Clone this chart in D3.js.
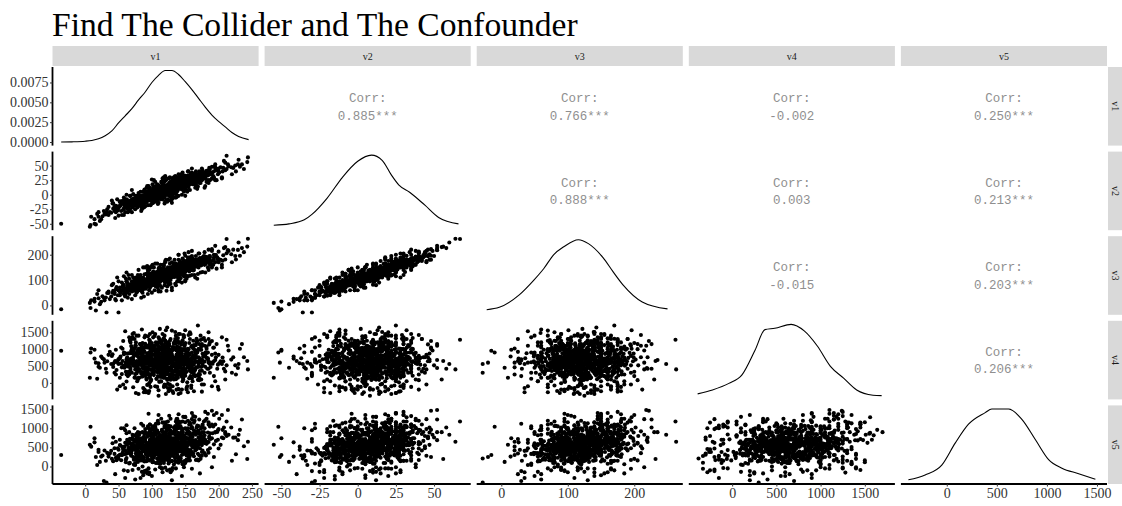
<!DOCTYPE html>
<html>
<head>
<meta charset="utf-8">
<script src="https://cdn.jsdelivr.net/npm/d3@7"></script>
<style>
  body { margin: 0; background: #ffffff; }
  svg { display: block; }
</style>
</head>
<body>
<svg id="chart" width="1122" height="506"></svg>
<script>
// ---- data -------------------------------------------------------------
const chartTitle = "Find The Collider and The Confounder";
const varNames = ["v1", "v2", "v3", "v4", "v5"];

// correlation labels, upper triangle read row by row (v1-v2, v1-v3, ...)
const corrText = ["0.885***", "0.766***", "-0.002", "0.250***",
                  "0.888***", "0.003", "0.213***",
                  "-0.015", "0.203***",
                  "0.206***"];

// axis limits of each variable
const axisLimits = [[-49, 260], [-61, 74], [-37, 273], [-490, 1840], [-458, 1600]];

// tick values
const densityTicks = [0, 0.0025, 0.005, 0.0075];
const varTicks = [
  [0, 50, 100, 150, 200, 250],
  [-50, -25, 0, 25, 50],
  [0, 100, 200],
  [0, 500, 1000, 1500],
  [0, 500, 1000, 1500]
];

// kernel density estimates of each variable: [value, density]
const densV1 = [[-36,0.0000],[-20,0.00002],[0,0.0001],[10,0.0002],[20,0.0004],[30,0.0008],[40,0.0014],[50,0.0024],[60,0.0033],[70,0.0042],[80,0.0053],[90,0.0063],[100,0.0075],[110,0.0084],[120,0.0090],[130,0.0090],[140,0.0085],[150,0.0076],[160,0.0066],[170,0.0055],[180,0.0044],[190,0.0034],[200,0.0026],[210,0.0019],[220,0.0012],[230,0.0007],[245,0.0003]];
const densV2 = [[-55,0.0004],[-45,0.0008],[-35,0.0020],[-30,0.0036],[-20,0.0084],[-10,0.0145],[0,0.0192],[9,0.0210],[16,0.0195],[22,0.0152],[27,0.0122],[34,0.0101],[44,0.0063],[53,0.0027],[66,0.0008]];
const densV3 = [[-22,0.0002],[-3,0.0005],[27,0.0021],[49,0.0040],[64,0.0055],[79,0.0073],[94,0.0083],[116,0.0092],[131,0.0087],[153,0.0069],[168,0.0051],[183,0.0034],[212,0.0012],[250,0.0003]];
const densV4 = [[-390,0.00003],[-222,0.00009],[-37,0.00019],[111,0.00032],[260,0.00070],[371,0.00101],[482,0.00103],[667,0.00109],[815,0.00099],[963,0.00076],[1111,0.00045],[1260,0.00027],[1408,0.00009],[1593,0.00001],[1690,0.000003]];
const densV5 = [[-383,0.00001],[-216,0.00009],[-50,0.00025],[84,0.00061],[217,0.00092],[384,0.00111],[450,0.00117],[617,0.00117],[750,0.00100],[884,0.00067],[1017,0.00034],[1150,0.00020],[1317,0.00011],[1484,0.00002]];
const densities = [densV1, densV2, densV3, densV4, densV5];

// observations: [v1, v2, v3, v4, v5]
const observations = [
[120,11,112,640,388],[85,-12,91,320,591],[150,25,132,980,540],[102,13,134,410,780],[171,24,173,150,292],
[63,-13,62,760,569],[134,4,138,1220,709],[111,11,94,560,76],[195,47,199,870,889],[47,-24,72,380,165],
[128,9,122,95,663],[92,-2,76,1050,510],[160,38,186,700,1012],[118,-4,127,-120,172],[76,-2,93,610,513],
[143,11,107,450,221],[212,44,206,520,800],[104,5,122,1390,689],[35,-21,49,830,323],[137,19,116,240,979],
[115,-2,108,680,547],[89,9,123,290,132],[166,17,164,1120,867],[124,16,118,-30,711],[58,-24,70,510,320],
[181,35,164,905,291],[99,-4,118,720,696],[141,25,158,350,598],[73,-13,59,1480,691],[131,-1,112,620,384],
[108,4,83,450,478],[153,27,174,15,382],[20,-38,28,580,436],[127,21,134,800,933],[82,-16,78,930,298],
[176,31,132,560,683],[113,10,160,180,73],[146,15,130,1260,889],[67,-2,78,690,723],[122,5,117,430,450],
[95,-3,124,760,367],[158,31,150,540,796],[131,14,150,-250,450],[56,-14,75,1010,507],[203,47,180,640,567],
[117,22,138,340,613],[88,-17,75,220,156],[139,11,139,880,1010],[105,2,96,600,413],[186,46,194,1140,787],
[79,-2,120,470,780],[126,3,93,700,221],[148,22,177,380,506],[41,-15,50,850,608],[112,2,122,1600,816],
[169,14,124,90,336],[97,3,76,560,911],[133,30,166,730,319],[70,-14,84,300,410],[121,14,109,-330,276],
[155,13,141,650,713],[86,-4,87,1180,465],[109,-6,91,470,724],[222,46,220,760,756],[61,-15,106,590,112],
[144,24,122,240,801],[119,7,114,920,572],[93,5,121,-60,199],[178,36,164,1330,900],[130,7,138,510,150],
[74,-15,60,820,641],[161,26,161,400,504],[103,10,104,1050,829],[136,2,135,690,377],[52,-12,70,150,308],
[191,28,176,570,872],[116,9,109,260,515],[84,-21,73,710,217],[147,29,155,1420,683],[125,10,82,820,1063],
[65,-22,84,480,487],[140,20,142,-190,168],[106,0,120,660,837],[172,36,187,980,480],[90,1,81,380,442],
[132,26,142,550,442],[14,-42,26,720,633],[157,21,117,830,333],[100,-7,112,1100,724],[123,10,131,300,655],
[77,-6,93,640,281],[163,36,154,210,949],[110,0,98,500,482],[145,9,138,1210,587],[54,-16,56,570,165],
[198,43,190,420,904],[118,16,146,780,342],[96,-3,84,-240,379],[138,21,159,600,1132],[72,1,110,930,460],
[129,18,132,450,666],[81,-9,95,1020,540],[152,20,148,330,290],[107,6,100,790,620],[44,-28,45,610,330],
[167,29,170,1310,1020],[114,3,120,40,260],[135,17,126,560,700],[60,-20,38,880,420],[184,33,178,690,430],
[98,1,117,250,540],[121,13,101,1560,880],[149,28,168,730,140],[87,-10,64,500,660],[174,26,158,470,760],
[69,-16,81,1090,350],[127,7,128,180,390],[101,-1,99,640,980],[142,20,117,860,420],[31,-34,31,420,150],
[116,19,145,920,690],[159,24,140,-80,310],[91,-6,99,560,420],[206,40,176,750,960],[78,-9,62,330,180],
[133,9,127,1180,740],[112,10,133,620,520],[50,-23,59,700,280],[170,27,150,260,590],[119,4,96,480,610],
[94,3,130,1380,830],[150,17,119,620,90],[62,-8,95,40,220],[180,38,193,890,1210],[125,12,104,360,380],
[83,-17,85,730,560],[137,30,152,510,630],[109,2,84,960,720],[229,52,219,440,690],[120,0,105,1250,600],
[75,-11,78,150,90],[162,32,172,600,870],[105,9,116,480,300],[140,11,140,1450,720],[39,-31,35,560,410],
[127,13,124,-150,260],[190,37,162,830,740],[88,-5,97,650,780],[116,6,127,340,510],[154,28,189,1010,450],
[66,-18,61,880,640],[131,16,141,270,350],[100,-4,104,720,190],[176,35,186,510,1100],[119,11,119,570,470],
[57,-15,82,1240,470],[144,14,124,780,810],[93,-8,80,430,570],[210,42,181,340,850],[122,8,130,920,360],
[80,-14,70,560,250],[135,22,150,1160,940],[112,-2,98,190,350],[164,21,158,700,520],[26,-37,36,730,290],
[139,20,117,450,810],[103,3,120,610,690],[71,-9,88,1350,510],[183,40,176,420,640],[128,5,111,850,880],
[96,4,90,-10,160],[151,29,157,590,600],[117,12,142,690,250],[59,-21,50,450,520],[146,18,151,300,980],
[108,7,97,980,440],[196,43,199,760,670],[85,-4,102,520,390],[124,15,138,1080,780],[33,-25,49,640,360],
[156,19,134,140,330],[113,0,115,560,780],[78,-13,71,810,600],[141,24,161,670,460],[168,31,166,950,1070],
[99,-9,86,380,610],[130,14,121,220,520],[46,-19,64,980,230],[185,39,170,600,360],[121,2,108,760,610],
[90,-11,92,1160,650],[134,23,147,480,700],[107,8,132,850,440],[215,49,215,960,830],[68,-12,69,380,420],
[147,16,146,640,380],[111,5,96,30,300],[158,33,179,540,760],[82,-7,95,690,300],[125,18,134,570,1000],
[102,-3,107,560,460],[173,30,175,1270,720],[63,-24,52,510,350],[138,13,136,820,300],[118,14,128,400,620],
[24,-42,14,780,260],[153,22,139,450,890],[95,0,112,1040,500],[129,6,118,680,560],[187,44,195,300,480],
[76,-16,73,1200,420],[144,27,170,560,650],[110,3,110,820,300],[55,-11,90,260,300],[166,24,153,640,920],
[123,9,117,90,430],[89,-2,82,790,740],[137,10,116,960,590],[201,38,181,580,1250],[114,8,124,510,230],
[70,-20,55,620,590],[149,25,162,1100,470],[98,2,102,-120,380],[160,35,168,330,380],[126,11,137,900,860],
[42,-24,58,470,140],[132,20,156,700,560],[105,-6,79,560,830],[179,28,163,820,620],[117,3,101,1300,710],
[86,-1,105,300,470],[143,19,130,580,200],[64,-13,77,870,680],[154,33,173,770,580],[120,7,126,440,340],
[192,32,160,1040,1050],[93,-10,76,620,560],[136,25,144,110,500],[111,12,126,700,430],[49,-27,40,600,480],
[163,27,178,530,270],[127,1,112,770,680],[79,-5,101,960,420],[148,21,142,230,700],[104,6,95,560,540],
[219,47,202,690,1020],[91,-13,66,420,320],[139,17,150,1330,650],[115,9,108,610,920],[61,-16,66,330,180],
[171,34,158,730,850],[122,15,141,540,410],[84,-8,93,1130,530],[157,26,149,410,640],[100,5,124,850,620],
[134,8,112,350,250],[37,-30,25,920,340],[146,23,165,640,760],[112,1,93,470,500],[182,36,183,1010,600],
[74,-10,89,500,530],[130,19,132,830,410],[97,-6,95,250,640],[165,30,181,610,470],[119,10,119,1040,800],
[53,-18,49,780,550],[141,14,135,470,590],[106,4,117,650,90],[199,41,185,540,950],[124,7,104,720,510],
[81,-3,86,400,640],[152,31,160,890,740],[116,13,133,220,340],[67,-14,73,1270,410],[138,22,158,620,490],
[101,-2,97,530,760],[175,25,168,360,560],[120,6,113,880,560],[87,-12,73,590,220],[142,18,128,780,1030],
[110,9,119,410,620],[159,22,148,1070,560],[44,-21,52,300,480],[128,12,129,690,310],[95,2,106,820,540],
[188,35,167,470,720],[113,4,110,980,370],[72,-17,59,680,700],[145,28,156,540,640],[123,3,120,120,290],
[90,-4,92,730,650],[135,16,139,1510,830],[108,10,129,590,500],[162,24,138,820,620],[58,-10,79,470,510],
[131,11,131,260,480],[103,-1,92,1000,880],[207,46,198,640,740],[118,8,115,770,230],[77,-8,80,520,510],
[155,20,153,630,850],[114,6,106,330,560],[83,-2,96,870,300],[140,21,149,500,450],[125,14,133,1120,650],
[66,-11,67,640,440],[170,33,171,560,560],[99,0,100,760,770],[136,12,120,390,560],[29,-33,20,600,420],
[149,19,141,970,380],[111,7,114,620,650],[88,-9,87,430,410],[177,32,182,780,760],[121,10,121,270,470],
[75,-7,90,1050,820],[143,26,157,680,520],[104,1,99,530,310],[161,29,163,420,660],[127,9,127,850,590],
[52,-20,55,730,560],[133,18,145,590,870],[97,4,111,1170,520],[193,40,189,640,580],[117,5,104,460,360],
[80,-12,78,760,390],[150,25,160,210,490],[109,11,125,720,770],[166,28,157,880,830],[122,13,140,570,550],
[92,-5,90,610,470],[139,15,138,920,640],[63,-17,71,500,610],[156,31,174,640,410],[115,8,112,390,690],
[184,34,175,730,890],[101,3,108,680,260],[130,17,146,480,600],[85,-6,84,990,590],[147,20,144,560,560],
[119,9,116,720,480],[56,-15,60,650,360],[137,14,131,540,780],[106,2,103,840,650],[172,29,165,610,670],
[124,11,125,380,420],[94,-3,98,710,590],[145,22,150,870,690],[112,6,118,560,540],[78,-10,83,640,450],
[160,27,160,740,700],[128,16,140,600,470],[102,2,110,480,600],[142,17,139,690,530],[118,12,125,810,600],
[70,-12,76,570,480],[153,24,154,530,610],[109,5,113,680,520],[134,15,137,720,660],[96,-1,101,600,580],
[126,10,120,650,540],[113,8,121,580,580],[140,18,143,620,620],[88,-5,91,700,470],[121,7,118,690,510],
[107,4,107,630,560],[148,23,147,600,600],[131,12,128,560,630],[99,1,103,660,500],[116,9,115,710,540],
[-36,-50,-15,950,300],[8,-52,-10,900,1040],[7,-55,10,150,568],[14,-50,15,980,740],[16,-51,-20,600,250],
[22,-45,5,450,120],[9,-38,20,1020,520],[18,-33,45,120,40],[32,-30,-28,300,-420],[50,-36,-28,560,210],
[28,-28,30,700,-380],[244,64,263,400,650],[243,56,232,650,195],[212,67,262,1280,1180],[235,52,226,1150,1230],
[230,60,248,560,830],[214,52,218,1100,1480],[238,44,210,760,530],[226,40,181,250,320],[208,58,226,420,1020],
[232,48,196,1010,960],[169,25,170,1700,900],[85,-12,60,1580,700],[110,8,125,-380,210],[140,22,118,-330,100],
[175,27,175,-260,380],[60,-18,40,1530,620],[123,14,143,1640,960],[95,-2,88,-300,310],[150,32,196,1560,1290],
[200,40,212,-200,470],[190,48,222,1240,1460],[160,25,160,900,1400],[110,5,100,800,1350],[75,-15,60,400,-340],
[130,12,130,200,-360],[60,-22,35,-150,-300],[145,20,140,550,-250],[95,-4,95,1100,1380],[45,-40,25,650,-200],
[180,30,175,1250,1430],[100,26,155,520,700],[150,-2,95,620,430],[70,8,120,700,520],[180,15,130,480,610],
[40,-10,80,800,200],[205,28,160,560,760],[120,32,170,380,560],[130,-14,60,720,460],[55,-35,20,460,300],
[195,52,235,680,900],[90,5,150,600,540],[160,30,120,610,700],[65,-10,120,540,360],[185,35,220,420,640],
[110,0,60,900,420],[140,25,200,330,560],[50,-20,95,700,440],[200,45,170,830,980],[20,-30,60,480,380],
[225,50,195,520,760],[118,10,122,520,430],[135,19,142,760,690],[92,-3,96,450,520],[154,26,162,680,740],
[107,6,112,910,580],[143,13,130,610,400],[81,-11,79,570,620],[128,15,135,430,570],[166,32,170,760,690],
[100,1,104,690,350],[121,11,124,840,720],[87,-7,86,310,430],[146,20,148,740,520],[112,2,107,560,470],
[174,31,178,650,810],[69,-15,68,880,460],[132,14,133,700,400],[104,5,115,590,720],[158,21,150,500,660],
[125,12,126,640,530],[98,-2,97,780,590],[139,23,153,580,610],[115,4,108,690,380],[77,-9,84,520,440],
[151,24,156,860,750],[109,7,120,400,480],[130,10,123,950,660],[93,-6,91,660,510],[162,28,165,590,590],
[119,8,118,470,600],[84,-9,81,740,350],[137,16,136,520,730],[103,3,106,630,450],[148,22,151,710,560],
[123,9,120,590,700],[61,-19,62,610,330],[170,30,168,490,640],[112,8,117,750,610],[144,17,142,640,480],
[96,0,100,540,520],[127,13,131,730,630],[82,-6,88,660,560],[156,27,160,600,700],[117,6,111,620,450],
[135,20,147,680,530],[105,2,102,460,640],[141,16,137,810,610],[90,-4,94,570,400],[179,35,181,630,720],
[120,11,125,590,480],
[118,25,160,1320,1150],[64,-30,30,200,-120],[152,8,105,-150,180],[97,12,150,1450,1100],[171,40,205,80,620],
[135,2,85,1020,230],[88,-22,35,-280,-150],[205,30,150,1350,1350],[42,-15,85,560,760],[127,30,185,-50,840],
[110,-14,55,1200,130],[160,45,215,400,1240],[75,-25,40,1100,40],[145,0,90,-200,980],[93,15,155,350,-180],
[185,20,140,1500,1160],[58,-5,115,850,-100],[130,-8,70,1550,860],[105,22,165,-100,1040],[220,35,170,300,150],
[80,3,140,-330,-60],[165,12,110,920,1300],[122,-10,58,250,950],[140,35,200,1180,200],[70,-30,25,1300,720],
[190,28,150,-100,1100],[100,-15,50,600,-250],[155,40,210,1420,920],[48,-8,110,-200,250],[136,-5,80,380,1180],
[115,20,130,1050,-50],[90,-20,70,1400,980],[175,45,175,-50,280],[62,0,130,250,870],[148,5,120,1350,60],
[125,28,180,-250,800],[84,-28,30,660,1120],[197,25,145,1150,1400],[108,18,165,-120,90],[168,10,105,1250,180],
[35,-35,55,1100,260],[140,-2,100,-180,1010],[96,10,140,1280,-160],[210,55,230,100,900],[76,-18,110,-300,700],
[158,35,155,1450,1100],[120,-12,90,1250,-30],[52,-12,40,-100,700],[182,22,185,1080,1250],[132,25,135,-300,340],
[101,-12,80,1500,110],[147,12,165,100,1300],[66,-28,45,1350,80],[124,0,150,1100,1180],[89,8,95,-200,-120],
[176,42,190,1300,420],[113,-8,55,50,820],[154,15,115,-280,1000],[71,-22,90,1450,-90],[193,30,200,200,1350],
[117,16,110,150,900],[99,-8,125,1150,300],[142,30,175,320,150],[86,-16,50,900,900],[128,-4,85,1300,1050],
[161,18,185,50,780],[105,14,90,780,-80],[73,-6,85,1000,50],[138,6,160,-50,1150],[119,22,120,1400,330],
[94,-18,45,300,1050],[166,40,195,800,170],[110,-3,135,-220,650],[150,10,150,1180,1300],[81,-2,60,150,830],
[130,28,170,950,-100],[57,-26,70,-50,430],[187,25,160,1200,1050],[121,0,95,300,1050],[144,35,140,1000,900],
[102,-14,105,1350,120],[79,-20,95,100,900],[173,20,130,1400,200],[116,28,160,600,-150],[91,4,70,-280,460],
[157,18,190,1300,1150],[133,-5,120,100,50],[68,-2,60,1200,600],[199,35,180,-120,700],[126,20,105,1150,1330],
[108,-10,130,500,1130],[146,38,185,750,60],[83,-5,120,1150,160],[179,12,160,300,1000],[112,12,80,1000,-20],
[98,-18,75,50,810],[162,35,145,1250,1320],[124,-8,125,-150,280],[54,-28,60,1050,1000],[141,10,95,900,1180],
[87,5,150,200,-230],[170,28,205,1000,160],[119,-15,80,-80,1060],[135,32,165,1300,150],[66,-18,105,250,900],
[193,48,180,1050,250],[104,-5,60,1100,1060],[152,20,175,-200,620],[77,-12,50,1400,850],[128,5,150,350,1250],
[95,15,120,-50,-50],[184,25,150,900,1380],[113,-6,140,1250,260],[139,28,110,150,1080],[60,-30,60,500,950],
[157,8,140,1500,160],[121,25,180,900,1160],[92,-12,95,-250,-100],[174,38,160,100,1000],[106,2,75,1200,1120],
[131,0,115,-100,-40],[149,30,205,1150,600],[85,-25,55,800,-140],[164,22,120,350,1200],[111,15,150,1300,350],
[72,-10,70,-130,560],[138,-2,95,1050,1250],[118,30,155,200,150],[178,30,195,-50,1180],[94,-6,140,1100,860],
[46,-30,20,250,650],[154,40,180,700,1200],[123,-12,75,450,-100],[101,18,160,1000,1050],[167,15,175,1200,500],
[80,-14,110,1400,300],[143,25,130,-300,760],[116,-8,115,1450,1150],[190,38,215,600,-20],[97,5,70,150,1100],
[136,18,165,1400,-50],[62,-14,95,700,1080],[159,30,140,-150,1000],[109,-16,70,800,1200],[127,10,165,-200,-80],
[82,-3,75,1150,880],[172,25,185,250,-180],[114,22,145,1200,1250],[150,12,100,350,1160],[89,-20,85,1350,450],
[125,5,95,1000,80],[103,25,150,300,980],[160,22,195,1100,-60],[78,-22,55,50,350],[142,18,125,1450,1140],
[119,-5,135,-50,1020],[96,-10,60,900,-200],[185,42,175,1300,1100],[134,30,180,1000,950],[67,-25,80,1250,100],
[153,5,115,-100,150],[110,16,145,1350,1130],[87,-12,110,-150,1070],[171,20,160,1150,1230],[128,-10,100,250,-150],
[99,5,150,1050,580],[146,32,150,50,1180],[74,-8,100,1300,1000],[163,18,140,-250,1150],[115,-2,70,1250,-50],
[92,12,125,100,-140],[179,34,210,1100,350],[137,-4,145,-200,1240],[58,-35,45,900,1000],[148,25,115,1400,-20],
[120,30,175,-100,600],[105,-12,90,1450,1020],[195,25,170,50,1100],[83,5,110,900,-300],[140,18,180,1200,1370],
[112,6,118,300,460],[145,22,152,950,850],[88,-8,89,1050,400],[131,15,126,180,600],[103,2,120,850,230],
[165,30,170,400,870],[76,-13,82,1100,340],[122,9,110,650,180],[150,20,148,1000,1000],[97,-3,96,200,700],
[138,18,140,800,260],[114,11,131,1150,760],[82,-10,76,350,720],[158,26,162,200,430],[107,1,101,1000,650],
[128,15,122,420,940],[92,-7,100,750,140],[174,33,168,1080,620],[119,7,125,150,470],[143,19,140,600,1020],
[69,-17,70,950,280],[133,14,138,1050,900],[101,-4,94,280,390],[155,28,164,880,280],[117,10,111,1120,520],
[85,-9,92,180,560],[148,21,145,420,660],[126,8,132,980,120],[95,-2,99,650,860],[168,28,176,220,900],
[110,4,104,860,880],[139,24,151,340,380],[79,-11,80,620,120],[156,22,150,1180,640],[123,13,127,300,270],
[98,-5,88,950,620],[135,12,126,720,1060],[113,9,120,200,180],[181,37,184,860,620],[90,-2,103,1120,720],
[147,25,158,150,540],[106,3,109,920,960],[130,10,136,380,740],[73,-14,78,840,180],[162,27,166,1020,340],
[118,6,108,260,840],[152,30,160,680,980],[86,-7,85,450,0],[125,17,138,1080,420],[104,0,97,360,560],
[140,19,150,1000,1040],[65,-20,63,330,460],[170,31,174,480,1060],[116,5,113,1020,250],[93,-1,95,240,300],
[144,16,137,1130,880],[127,12,128,230,700],[108,7,116,760,940],[159,29,168,320,800],[81,-6,94,880,680],
[120,14,127,1180,620],[136,9,121,520,120],[99,-4,107,400,880],[151,23,149,780,320],[111,8,122,1060,760],
[88,-11,80,240,240],[175,32,170,700,1030],[129,11,135,160,560],[102,3,104,1040,380],[146,20,142,380,900],
[71,-12,86,700,830],[124,13,119,900,310],[160,23,159,130,620],[94,1,112,820,200],[133,21,144,1160,620],
[115,2,101,340,960],[84,-14,74,1000,480],[155,27,152,480,190],[109,9,123,200,620],[142,13,131,940,760],
[77,-4,93,280,750],[167,34,180,900,560],[118,3,106,640,90],[97,-1,102,1160,300],[139,22,149,260,1000],
[125,7,122,880,220],[90,-9,87,780,900],[149,24,155,1120,480],[107,5,111,120,340],[187,39,188,560,870],
[114,12,126,860,150],[132,18,140,340,620],[100,-2,98,1100,1000],[156,26,159,610,240],[80,-9,79,150,660],
[141,16,141,1050,760],[121,6,115,420,880],[93,-4,92,880,480],[163,30,168,260,540],[110,10,119,640,320],
[135,11,128,1200,960],[72,-16,71,520,250],[148,27,159,320,820],[104,2,108,960,600],[127,14,132,160,420],
[86,-3,96,660,160],[170,25,168,1000,760],[117,8,120,300,700],[98,-7,90,560,940],[144,24,150,840,400],
[105,8,118,700,620],[132,12,124,230,480],[94,-6,84,1080,560],[158,25,150,560,780],[118,2,100,880,350],
[77,-10,90,420,540],[145,26,162,620,300],[124,17,140,1200,720],[99,0,110,90,440],[170,28,160,760,940],
[113,5,96,500,690],[86,-14,78,860,260],[150,16,140,290,660],[128,10,130,980,480],[66,-15,70,540,430],
[141,30,165,700,850],[108,-3,105,320,200],[162,20,146,1050,580],[121,12,133,450,820],[91,-9,95,780,360],
[136,22,147,160,700],[111,3,112,620,540],[179,30,175,840,820],[97,6,118,1250,660],[148,15,133,520,380],
[126,-2,96,760,600],[83,-4,105,600,280],[154,32,171,890,560],[115,11,120,180,280],[138,7,120,1080,1000],
[72,-20,62,760,520],[102,10,130,560,760],[165,35,176,420,620],[129,4,110,880,400],[92,-12,80,130,470],
[147,19,149,1000,700],[119,15,133,700,230],[84,-2,88,1150,740],[157,21,157,360,880],[107,-1,104,940,480],
[133,27,152,560,1020],[75,-16,65,260,220],[168,22,160,900,520],[122,0,99,1100,640],[96,8,113,500,900],
[144,13,145,300,450],[110,14,128,1000,300],[63,-10,86,650,700],[182,41,191,740,600],[125,5,124,460,160],
[89,-5,96,920,850],[152,28,165,680,520],[114,-5,100,240,580],[139,20,135,1240,880],[101,8,105,600,120],
[172,24,170,350,720],[80,-13,70,1000,560],[131,21,150,780,280],[117,1,108,380,440],[95,-7,86,700,620],
[160,35,180,520,1030],[123,16,126,940,560],[68,-18,74,450,330],[146,12,132,660,930],[109,6,124,1100,540],
[137,25,156,400,380],[87,-2,102,780,200],[175,30,165,1150,900],[103,-6,88,230,670],[151,21,138,830,460],
[119,14,114,560,880],[98,2,120,1020,420],[134,6,121,120,580],[82,-16,81,680,490],[164,24,165,980,680],
[112,9,109,320,750],[142,27,160,880,620],[76,-7,78,560,190],[127,18,144,1250,780],[104,-8,96,460,400],
[156,18,148,700,1100],[90,4,96,220,680],[186,36,180,620,740],[116,-1,118,900,320],[135,15,140,520,540],
[70,-8,95,1030,600],[149,33,168,300,560],[121,8,116,780,1090],[100,-2,90,640,250],[167,25,173,460,450],
[113,13,135,1200,680],[93,1,84,360,780],[140,11,128,960,240],[79,-19,60,800,380],[159,30,152,580,840],
[124,4,129,100,600],[106,12,112,700,880],[144,22,150,440,130],[85,-11,90,1080,700],[130,16,131,620,360],
[98,-3,104,880,530],[155,29,166,1000,620],[117,9,124,260,420],[71,-13,80,600,750],[180,28,172,780,690],
[110,2,108,540,210],[137,18,137,840,800],[92,-6,91,460,330],[163,33,175,1120,860],[125,12,122,700,990],
[101,4,114,290,520],[148,18,143,590,640],[88,-9,82,960,520],[128,22,146,420,560],[115,-3,103,780,710],
[145,24,157,180,700],[76,-12,84,860,450],[170,36,183,640,580],[120,5,115,1020,830],[96,-1,97,400,460],
[139,14,133,740,270],[107,10,121,120,600],[153,20,149,900,960],[83,-8,75,540,560],[131,19,140,1060,480],
[114,7,110,460,820],[161,27,162,330,680],[99,3,106,920,640],[126,14,135,600,440],[69,-14,66,720,540],
[143,17,140,560,1050],[118,-2,97,180,380],[174,31,174,980,720],[93,-2,93,740,280],[137,24,152,340,620],
[108,11,118,1140,740],[152,25,155,720,860],[81,-10,86,380,640],[129,9,121,860,520],[111,0,107,560,600],
[165,30,166,200,420],[95,6,112,640,1000],[134,16,137,1000,580],[74,-9,72,160,470],[147,23,150,780,330],
[122,3,113,380,700],[103,9,126,840,450],[158,24,163,580,720],[89,-12,84,700,860],[141,19,144,240,610],
[116,12,121,980,560],[130,6,117,620,140],[86,-4,99,440,600],[176,37,178,860,1060],[100,1,100,1180,700],
[150,27,158,400,510],[120,9,121,760,360],[78,-15,72,940,680],[133,13,134,520,900],[106,-4,99,660,520],
[162,29,171,760,560],[113,10,116,340,620],[140,20,148,900,740],[94,-8,88,580,420],[126,6,118,1100,580],
[145,20,145,340,820],[109,3,108,760,560],[169,26,162,620,920],[84,-7,90,280,300],[127,15,133,820,650],
[101,-6,92,1080,540],[154,22,150,520,380],[118,9,119,900,760],[91,-2,98,620,560],[136,17,140,460,460]
];

// ---- layout -----------------------------------------------------------
const gridLeft = 52.5, gridRight = 1107, gridTop = 67, gridBottom = 484, gap = 6;
const n = varNames.length;
const pw = (gridRight - gridLeft - (n - 1) * gap) / n;
const ph = (gridBottom - gridTop - (n - 1) * gap) / n;
const colX = j => gridLeft + j * (pw + gap);
const rowY = i => gridTop + i * (ph + gap);

const serif = "'Liberation Serif', 'Times New Roman', serif";
const mono = "'Liberation Mono', 'Courier New', monospace";
const tickFont = 14;

const svg = d3.select("#chart");

// one x scale per column, one y scale per row
const xScales = axisLimits.map((lim, j) => d3.scaleLinear().domain(lim).range([colX(j), colX(j) + pw]));
const yScales = axisLimits.map((lim, i) => d3.scaleLinear().domain(lim).range([rowY(i) + ph, rowY(i)]));

// density scales for the diagonal panels
const densScales = densities.map((d, i) => {
  const m = d3.max(d, p => p[1]);
  return d3.scaleLinear().domain([-0.05 * m, 1.05 * m]).range([rowY(i) + ph, rowY(i)]);
});

// title
svg.append("text")
  .attr("x", 52).attr("y", 36)
  .attr("font-family", serif).attr("font-size", 33.6)
  .attr("fill", "#000")
  .text(chartTitle);

// strips along the top
varNames.forEach((name, j) => {
  svg.append("rect")
    .attr("x", colX(j)).attr("y", 46).attr("width", pw).attr("height", 20)
    .attr("fill", "#d9d9d9");
  svg.append("text")
    .attr("x", colX(j) + pw / 2).attr("y", 56)
    .attr("dy", "0.35em").attr("text-anchor", "middle")
    .attr("font-family", serif).attr("font-size", 10).attr("fill", "#1a1a1a")
    .text(name);
});

// strips down the right side
varNames.forEach((name, i) => {
  svg.append("rect")
    .attr("x", gridRight + 1).attr("y", rowY(i)).attr("width", 20).attr("height", ph)
    .attr("fill", "#d9d9d9");
  svg.append("text")
    .attr("transform", `translate(${gridRight + 8},${rowY(i) + ph / 2}) rotate(90)`)
    .attr("dy", "0.35em").attr("text-anchor", "middle")
    .attr("font-family", serif).attr("font-size", 10).attr("fill", "#1a1a1a")
    .text(name);
});

// clip paths for every panel
const defs = svg.append("defs");
for (let i = 0; i < n; i++) for (let j = 0; j < n; j++) {
  defs.append("clipPath").attr("id", `clip-${i}-${j}`)
    .append("rect").attr("x", colX(j)).attr("y", rowY(i)).attr("width", pw).attr("height", ph);
}

// panels
let corrIdx = 0;
for (let i = 0; i < n; i++) {
  for (let j = 0; j < n; j++) {
    const g = svg.append("g").attr("clip-path", `url(#clip-${i}-${j})`);
    if (i > j) {
      // scatter of column variable against row variable
      g.selectAll("circle").data(observations).join("circle")
        .attr("cx", d => xScales[j](d[j]))
        .attr("cy", d => yScales[i](d[i]))
        .attr("r", 2.05)
        .attr("fill", "#000");
    } else if (i === j) {
      const line = d3.line()
        .x(p => xScales[j](p[0]))
        .y(p => densScales[i](p[1]))
        .curve(d3.curveMonotoneX);
      g.append("path").datum(densities[i])
        .attr("d", line)
        .attr("fill", "none").attr("stroke", "#000").attr("stroke-width", 1.1);
    } else {
      const cx = colX(j) + pw / 2, cy = rowY(i) + ph / 2;
      svg.append("text")
        .attr("x", cx).attr("y", cy - 8.5).attr("dy", "0.35em")
        .attr("text-anchor", "middle")
        .attr("font-family", mono).attr("font-size", 12.5).attr("fill", "#8f8f8f")
        .text("Corr:");
      svg.append("text")
        .attr("x", cx).attr("y", cy + 9).attr("dy", "0.35em")
        .attr("text-anchor", "middle")
        .attr("font-family", mono).attr("font-size", 12.5).attr("fill", "#8f8f8f")
        .text(corrText[corrIdx++]);
    }
  }
}

// axes
function styleAxis(sel) {
  sel.select(".domain").attr("stroke", "#000").attr("stroke-width", 1.8);
  sel.selectAll(".tick line").attr("stroke", "#333").attr("stroke-width", 1);
  sel.selectAll(".tick text")
    .attr("font-family", serif).attr("font-size", tickFont).attr("fill", "#333");
}

// left axes: density on the first row, variables below
for (let i = 0; i < n; i++) {
  const axis = i === 0
    ? d3.axisLeft(densScales[0]).tickValues(densityTicks).tickFormat(d3.format(".4f"))
    : d3.axisLeft(yScales[i]).tickValues(varTicks[i]).tickFormat(d => String(d));
  axis.tickSizeOuter(0).tickSize(2.5).tickPadding(1.5);
  svg.append("g").attr("transform", `translate(${gridLeft},0)`).call(axis).call(styleAxis)
    .select(".domain").attr("d", `M0,${rowY(i)}V${rowY(i) + ph}`);
}

// bottom axes
for (let j = 0; j < n; j++) {
  const axis = d3.axisBottom(xScales[j]).tickValues(varTicks[j]).tickFormat(d => String(d))
    .tickSizeOuter(0).tickSize(2.5).tickPadding(2);
  svg.append("g").attr("transform", `translate(0,${gridBottom})`).call(axis).call(styleAxis)
    .select(".domain").attr("d", `M${colX(j)},0H${colX(j) + pw}`);
}
</script>
</body>
</html>
